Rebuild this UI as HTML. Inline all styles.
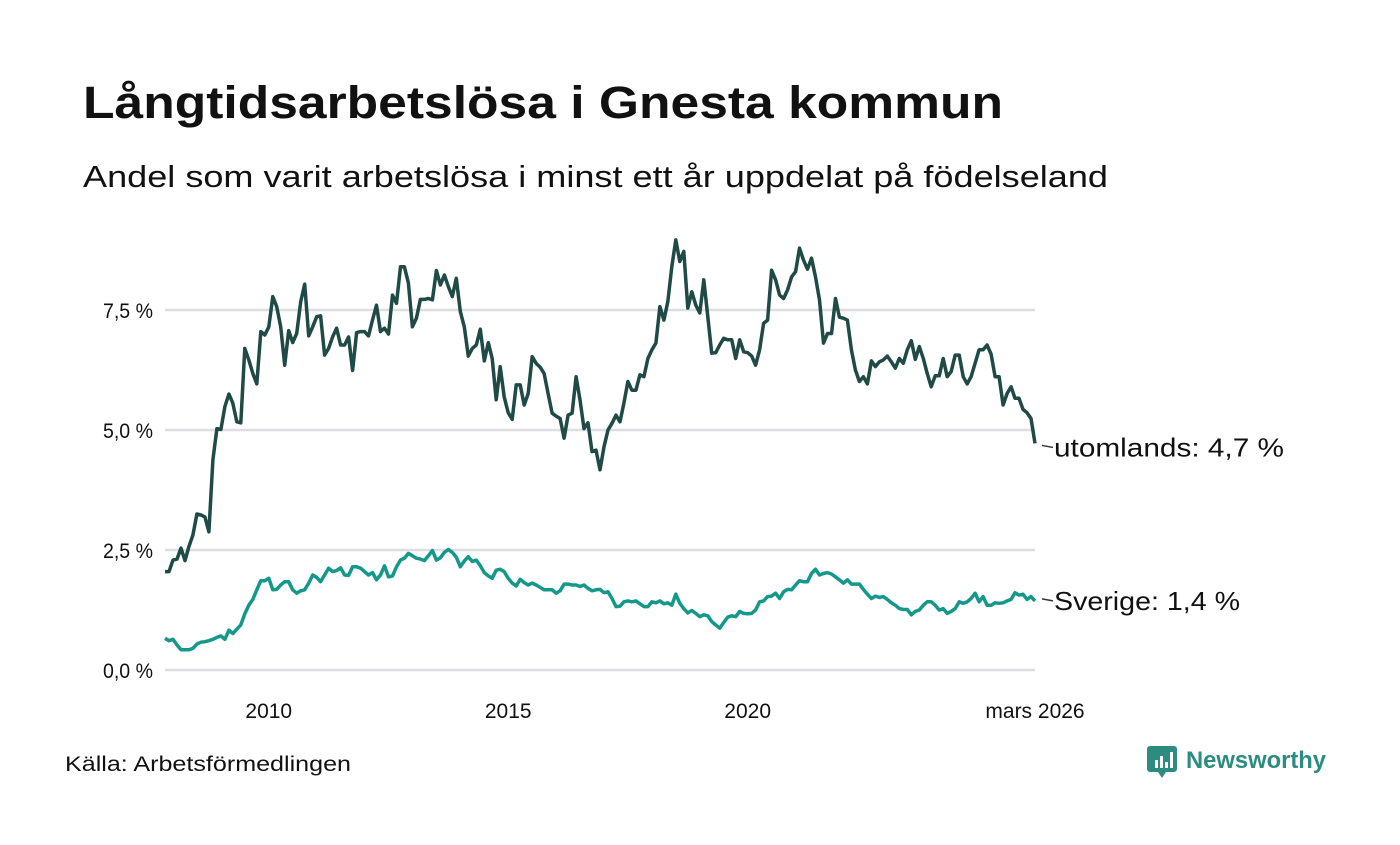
<!DOCTYPE html>
<html><head><meta charset="utf-8"><style>
body{margin:0;background:#fff;}
svg text{font-family:"Liberation Sans",sans-serif;}
</style></head><body>
<svg id="chart" width="1400" height="840" viewBox="0 0 1400 840" xmlns="http://www.w3.org/2000/svg">
<text x="83" y="118" font-size="45" font-weight="bold" fill="#111" textLength="920" lengthAdjust="spacingAndGlyphs">Långtidsarbetslösa i Gnesta kommun</text>
<text x="83" y="187" font-size="31" fill="#111" textLength="1025" lengthAdjust="spacingAndGlyphs">Andel som varit arbetslösa i minst ett år uppdelat på födelseland</text>
<g id="grid"></g>
<g id="yticks"></g>
<g id="xticks"></g>
<g id="lines"></g>
<text x="65" y="771" font-size="21" fill="#111" textLength="286" lengthAdjust="spacingAndGlyphs">Källa: Arbetsförmedlingen</text>
<g>
<path d="M1150 746 h24 a3 3 0 0 1 3 3 v20 a3 3 0 0 1 -3 3 h-8 l-4 6 l-4 -6 h-8 a3 3 0 0 1 -3 -3 v-20 a3 3 0 0 1 3 -3z" fill="#2c8c7f"/>
<rect x="1155" y="760" width="3" height="8" fill="#fff"/><rect x="1160" y="756" width="3" height="12" fill="#fff"/><rect x="1165" y="762" width="3" height="6" fill="#fff"/><rect x="1170" y="752" width="3" height="16" fill="#fff"/>
<text x="1186" y="768" font-size="24" font-weight="bold" fill="#2c8c7f" textLength="140" lengthAdjust="spacingAndGlyphs">Newsworthy</text>
</g>
</svg>
<script>
const yTicks=[0,2.5,5,7.5];
const yTickLabels=["0,0 %","2,5 %","5,0 %","7,5 %"];
const xTickMonthIdx=[26,86,146,218];
const xTickLabels=["2010","2015","2020","mars 2026"];
const seriesNames=["utomlands","Sverige"];
const endLabels=["utomlands: 4,7 %","Sverige: 1,4 %"];
const endLabelWidths=[230,186];
const utomlands=[2.05,2.05,2.29,2.31,2.54,2.28,2.57,2.81,3.25,3.23,3.19,2.88,
4.38,5.03,5.01,5.49,5.75,5.56,5.17,5.15,6.70,6.46,6.18,5.96,
7.05,6.98,7.15,7.78,7.57,7.15,6.35,7.07,6.82,7.01,7.67,8.04,
6.96,7.15,7.36,7.38,6.56,6.70,6.94,7.12,6.77,6.77,6.94,6.24,
7.03,7.05,7.05,6.96,7.29,7.60,7.05,7.12,7.00,7.81,7.64,8.40,
8.40,8.06,7.15,7.33,7.72,7.72,7.74,7.71,8.32,8.02,8.23,7.99,
7.78,8.16,7.47,7.15,6.54,6.70,6.77,7.10,6.44,6.82,6.49,5.63,
6.32,5.69,5.36,5.22,5.94,5.94,5.52,5.76,6.53,6.39,6.31,6.18,
5.76,5.35,5.29,5.24,4.83,5.31,5.35,6.11,5.63,5.03,5.15,4.55,
4.58,4.17,4.65,5.00,5.14,5.31,5.17,5.56,6.01,5.83,5.83,6.15,
6.11,6.49,6.67,6.81,7.57,7.29,7.67,8.40,8.96,8.51,8.72,7.54,
7.88,7.60,7.44,8.13,7.36,6.60,6.61,6.77,6.91,6.88,6.88,6.49,
6.88,6.63,6.61,6.54,6.35,6.67,7.22,7.29,8.33,8.13,7.81,7.74,
7.92,8.19,8.30,8.79,8.54,8.35,8.58,8.19,7.71,6.81,7.01,7.01,
7.74,7.35,7.33,7.29,6.67,6.25,6.01,6.11,5.96,6.44,6.32,6.42,
6.46,6.54,6.42,6.29,6.49,6.39,6.67,6.86,6.47,6.74,6.49,6.18,
5.90,6.13,6.13,6.49,6.11,6.22,6.56,6.56,6.11,5.96,6.11,6.39,
6.67,6.67,6.77,6.58,6.11,6.11,5.52,5.76,5.90,5.66,5.66,5.43,
5.36,5.24,4.72];
const sverige=[0.66,0.61,0.64,0.52,0.42,0.42,0.42,0.45,0.54,0.58,0.59,0.61,
0.64,0.68,0.71,0.64,0.83,0.76,0.85,0.94,1.17,1.35,1.47,1.67,
1.86,1.86,1.91,1.67,1.68,1.77,1.84,1.84,1.67,1.60,1.65,1.67,
1.81,1.98,1.93,1.84,1.98,2.12,2.05,2.07,2.13,1.98,1.97,2.15,
2.15,2.12,2.05,1.98,2.03,1.88,1.98,2.17,1.94,1.96,2.15,2.29,
2.33,2.43,2.38,2.33,2.31,2.28,2.38,2.49,2.29,2.34,2.45,2.51,
2.45,2.35,2.15,2.27,2.36,2.26,2.29,2.17,2.03,1.96,1.91,2.08,
2.10,2.05,1.91,1.81,1.75,1.89,1.82,1.77,1.81,1.77,1.72,1.67,
1.67,1.67,1.60,1.65,1.79,1.79,1.77,1.77,1.74,1.77,1.70,1.65,
1.67,1.68,1.61,1.63,1.49,1.32,1.33,1.42,1.44,1.42,1.44,1.38,
1.32,1.32,1.42,1.40,1.44,1.38,1.40,1.35,1.58,1.39,1.28,1.19,
1.24,1.18,1.11,1.15,1.13,1.01,0.94,0.87,0.99,1.10,1.13,1.11,
1.22,1.18,1.17,1.18,1.25,1.42,1.44,1.53,1.54,1.60,1.49,1.63,
1.68,1.67,1.77,1.86,1.84,1.84,2.01,2.10,1.98,2.01,2.03,2.00,
1.94,1.88,1.81,1.88,1.79,1.79,1.79,1.68,1.58,1.49,1.54,1.51,
1.53,1.47,1.40,1.35,1.28,1.26,1.26,1.15,1.22,1.25,1.35,1.42,
1.42,1.35,1.25,1.28,1.18,1.22,1.28,1.42,1.39,1.42,1.49,1.60,
1.42,1.53,1.35,1.35,1.40,1.39,1.40,1.44,1.47,1.61,1.56,1.58,
1.47,1.53,1.44];

const NS="http://www.w3.org/2000/svg";
const X0=165,X1=1035,Y0=670,PXU=48;
const n=utomlands.length;
function xs(i){return X0+(X1-X0)*i/(n-1);}
function ys(v){return Y0-v*PXU;}
function mk(tag,attrs,parent){const e=document.createElementNS(NS,tag);for(const k in attrs)e.setAttribute(k,attrs[k]);parent.appendChild(e);return e;}
const grid=document.getElementById('grid'),yg=document.getElementById('yticks'),xg=document.getElementById('xticks'),lg=document.getElementById('lines');
yTicks.forEach((t,k)=>{
  const l=mk('line',{x1:X0,x2:X1,y1:ys(t),y2:ys(t),stroke:'#dddde2','stroke-width':2.5},grid);
  
  
  const tx=mk('text',{x:153,y:ys(t)+8,'font-size':21,'text-anchor':'end',fill:'#111',textLength:50,lengthAdjust:'spacingAndGlyphs'},yg);
  tx.textContent=yTickLabels[k];
  
  
});
xTickMonthIdx.forEach((m,k)=>{
  const tx=mk('text',{x:xs(m),y:718,'font-size':21,'text-anchor':'middle',fill:'#111'},xg);
  tx.textContent=xTickLabels[k];
  
  
});
const colors=['#1f4a45','#13988a'];
[utomlands,sverige].forEach((arr,s)=>{
  const d=arr.map((v,i)=>(i?'L':'M')+xs(i).toFixed(1)+' '+ys(v).toFixed(1)).join(' ');
  const p=mk('path',{d:d,fill:'none',stroke:colors[s],'stroke-width':3.5,'stroke-linejoin':'round'},lg);
  
  
  const last=arr[arr.length-1], ly=ys(last)+(s===0?4:0);
  const c=mk('line',{x1:X1+7,x2:X1+18,y1:ly-2,y2:ly,stroke:'#333','stroke-width':1.5},lg);
  
  
  const t=mk('text',{x:X1+19,y:ly+9,'font-size':26,fill:'#111',textLength:endLabelWidths[s],lengthAdjust:'spacingAndGlyphs'},lg);
  t.textContent=endLabels[s];
  
  
});
</script>
</body></html>
